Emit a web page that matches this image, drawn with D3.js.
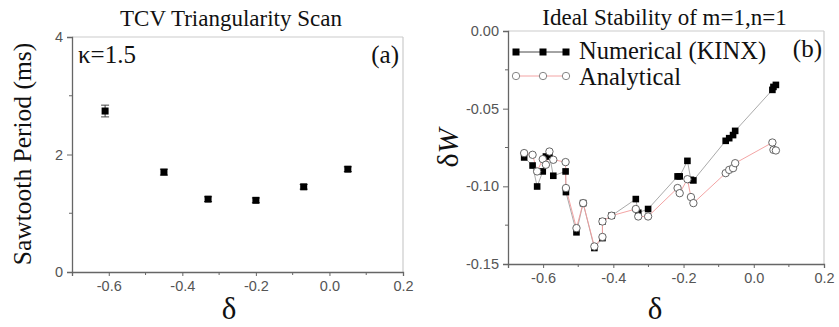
<!DOCTYPE html>
<html><head><meta charset="utf-8">
<script src="https://cdn.jsdelivr.net/npm/d3@7"></script>
<style>
body{margin:0;background:#fff;}
svg{display:block;}
</style></head>
<body>
<script>
// ---- Panel (a) data ----
const deltaA = [-0.61, -0.45, -0.33, -0.20, -0.07, 0.05];
const periodA = [2.74, 1.70, 1.24, 1.22, 1.45, 1.75];
const errA = [0.10, 0.05, 0.04, 0.04, 0.04, 0.04];
const xTicksA = [-0.6, -0.4, -0.2, 0.0, 0.2];
const xTickLabelsA = ["-0.6", "-0.4", "-0.2", "0.0", "0.2"];
const yTicksA = [0, 2, 4];
const yTickLabelsA = ["0", "2", "4"];

// ---- Panel (b) data ----
const deltaB = [-0.654,-0.630,-0.617,-0.601,-0.592,-0.582,-0.571,-0.536,-0.535,-0.505,-0.486,-0.454,-0.431,-0.431,-0.405,-0.336,-0.329,-0.301,-0.217,-0.211,-0.189,-0.179,-0.172,-0.080,-0.070,-0.059,-0.053,0.053,0.056,0.063];
const numericalB = [-0.0814,-0.0866,-0.1001,-0.0904,-0.0808,-0.0797,-0.0932,-0.0904,-0.1037,-0.1296,-0.1108,-0.1397,-0.1333,-0.1226,-0.1189,-0.1082,-0.1170,-0.1146,-0.0936,-0.0936,-0.0836,-0.0958,-0.0962,-0.0707,-0.0690,-0.0670,-0.0643,-0.0379,-0.0360,-0.0347];
const analyticalB = [-0.0786,-0.0797,-0.0904,-0.0825,-0.0861,-0.0776,-0.0829,-0.0844,-0.1011,-0.1269,-0.1108,-0.1387,-0.1326,-0.1226,-0.1189,-0.1146,-0.1194,-0.1194,-0.1011,-0.1044,-0.0954,-0.1069,-0.1108,-0.0915,-0.0894,-0.0883,-0.0851,-0.0718,-0.0765,-0.0769];
const xTicksB = [-0.6, -0.4, -0.2, 0.0, 0.2];
const xTickLabelsB = ["-0.6", "-0.4", "-0.2", "0.0", "0.2"];
const yTicksB = [0, -0.05, -0.10, -0.15];
const yTickLabelsB = ["0.00", "-0.05", "-0.10", "-0.15"];
const legendLabels = ["Numerical (KINX)", "Analytical"];

const SERIF = "'Liberation Serif', 'Times New Roman', serif";
const SANS = "'Liberation Sans', Arial, sans-serif";

const svg = d3.select("body").append("svg").attr("width", 839).attr("height", 327);

function stext(g, x, y, size, anchor, str, transform) {
  const t = g.append("text").attr("font-family", SERIF).attr("font-size", size)
    .attr("fill", "#111").attr("text-anchor", anchor);
  if (transform) t.attr("transform", transform); else t.attr("x", x).attr("y", y);
  if (str != null) t.text(str);
  return t;
}

function frame(g, x, y, xt, xtl, yt, ytl, xMinor, yMinor) {
  const [x0, x1] = x.range(), [y0, y1] = y.range();
  g.append("line").attr("x1", x0).attr("x2", x1).attr("y1", y1).attr("y2", y1).attr("stroke", "#ccc").attr("stroke-width", 1.2);
  g.append("line").attr("x1", x1).attr("x2", x1).attr("y1", y1).attr("y2", y0).attr("stroke", "#ccc").attr("stroke-width", 1.2);
  const xa = g.append("g").attr("transform", `translate(0,${y0})`)
    .call(d3.axisBottom(x).tickValues(xt).tickFormat((d, i) => xtl[i]).tickSize(4).tickPadding(5));
  const ya = g.append("g").attr("transform", `translate(${x0},0)`)
    .call(d3.axisLeft(y).tickValues(yt).tickFormat((d, i) => ytl[i]).tickSize(5).tickPadding(4));
  [xa, ya].forEach(a => {
    a.attr("font-family", SANS).attr("font-size", 14.5);
    a.selectAll(".tick text").attr("fill", "#555");
    a.select(".domain").attr("stroke", "#666").attr("stroke-width", 1.3);
    a.selectAll(".tick line").attr("stroke", "#666").attr("stroke-width", 1);
  });
  g.selectAll(".xminor").data(xMinor).join("line")
    .attr("x1", d => x(d)).attr("x2", d => x(d)).attr("y1", y0).attr("y2", y0 + 3)
    .attr("stroke", "#666");
  g.selectAll(".yminor").data(yMinor).join("line")
    .attr("x1", x0 - 3).attr("x2", x0).attr("y1", d => y(d)).attr("y2", d => y(d))
    .attr("stroke", "#666");
}

// ---- Panel (a) ----
{
  const g = svg.append("g");
  const x = d3.scaleLinear().domain([-0.7, 0.2]).range([72, 403]);
  const y = d3.scaleLinear().domain([0, 4]).range([272, 37]);
  frame(g, x, y, xTicksA, xTickLabelsA, yTicksA, yTickLabelsA, [-0.5, -0.3, -0.1, 0.1], [1, 3]);
  const pts = deltaA.map((d, i) => ({d, v: periodA[i], e: errA[i]}));
  const eb = g.append("g").attr("stroke", "#444").attr("stroke-width", 1);
  pts.forEach(p => {
    eb.append("line").attr("x1", x(p.d)).attr("x2", x(p.d)).attr("y1", y(p.v - p.e)).attr("y2", y(p.v + p.e));
    eb.append("line").attr("x1", x(p.d) - 4).attr("x2", x(p.d) + 4).attr("y1", y(p.v - p.e)).attr("y2", y(p.v - p.e));
    eb.append("line").attr("x1", x(p.d) - 4).attr("x2", x(p.d) + 4).attr("y1", y(p.v + p.e)).attr("y2", y(p.v + p.e));
  });
  g.selectAll(".sq").data(pts).join("rect")
    .attr("x", p => x(p.d) - 3.5).attr("y", p => y(p.v) - 3.5).attr("width", 7).attr("height", 7).attr("fill", "#000");
  stext(g, 231, 26, 23, "middle", "TCV Triangularity Scan");
  stext(g, 78, 63, 25, "start", "κ=1.5");
  stext(g, 399, 63, 25, "end", "(a)");
  stext(g, 0, 0, 25.5, "middle", "Sawtooth Period (ms)", "translate(31,154) rotate(-90)");
  stext(g, 229, 319, 31, "middle", "δ");
}

// ---- Panel (b) ----
{
  const g = svg.append("g");
  const x = d3.scaleLinear().domain([-0.7, 0.2]).range([508, 824]);
  const y = d3.scaleLinear().domain([-0.15, 0]).range([264, 31]);
  frame(g, x, y, xTicksB, xTickLabelsB, yTicksB, yTickLabelsB, [-0.5, -0.3, -0.1, 0.1], [-0.025, -0.075, -0.125]);
  const data = deltaB.map((d, i) => ({d, n: numericalB[i], a: analyticalB[i]}));
  const lineN = d3.line().x(p => x(p.d)).y(p => y(p.n));
  const lineA = d3.line().x(p => x(p.d)).y(p => y(p.a));
  g.append("path").attr("d", lineN(data)).attr("fill", "none").attr("stroke", "#a0a0a0").attr("stroke-width", 0.9);
  g.append("path").attr("d", lineA(data)).attr("fill", "none").attr("stroke", "#f29a9a").attr("stroke-width", 0.9);
  g.selectAll(".sqb").data(data).join("rect")
    .attr("x", p => x(p.d) - 3.3).attr("y", p => y(p.n) - 3.3).attr("width", 6.6).attr("height", 6.6).attr("fill", "#000");
  g.selectAll(".cb").data(data).join("circle")
    .attr("cx", p => x(p.d)).attr("cy", p => y(p.a)).attr("r", 3.7)
    .attr("fill", "#fff").attr("stroke", "#555").attr("stroke-width", 0.9);
  // legend
  const lx = [516, 543, 566];
  g.append("line").attr("x1", lx[0]).attr("x2", lx[2]).attr("y1", 52).attr("y2", 52).attr("stroke", "#333").attr("stroke-width", 0.9);
  lx.forEach(v => g.append("rect").attr("x", v - 3.5).attr("y", 48.5).attr("width", 7).attr("height", 7).attr("fill", "#000"));
  g.append("line").attr("x1", lx[0]).attr("x2", lx[2]).attr("y1", 76).attr("y2", 76).attr("stroke", "#f29a9a").attr("stroke-width", 0.9);
  lx.forEach(v => g.append("circle").attr("cx", v).attr("cy", 76).attr("r", 3.7).attr("fill", "#fff").attr("stroke", "#777").attr("stroke-width", 0.9));
  stext(g, 579, 59, 24.5, "start", legendLabels[0]);
  stext(g, 579, 85, 24.5, "start", legendLabels[1]);
  stext(g, 822, 57, 25, "end", "(b)");
  stext(g, 664.5, 25, 23, "middle", "Ideal Stability of m=1,n=1");
  const yl = stext(g, 0, 0, 30, "middle", null, "translate(458,148) rotate(-90)");
  yl.append("tspan").text("δ");
  yl.append("tspan").attr("font-style", "italic").text("W");
  stext(g, 655, 319, 31, "middle", "δ");
}
</script>
</body></html>
